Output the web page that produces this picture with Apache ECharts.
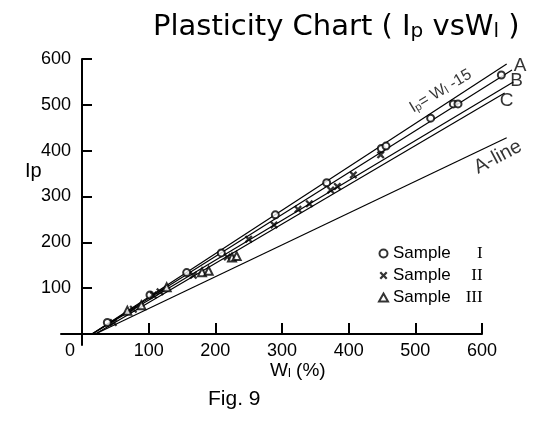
<!DOCTYPE html>
<html><head><meta charset="utf-8">
<script src="https://cdn.jsdelivr.net/npm/echarts@6/dist/echarts.min.js"></script>
<style>html,body{margin:0;padding:0;background:#fff}#c{width:547px;height:423px}</style>
</head><body><div id="c"></div>
<script>
// ---- data ----
const xTickValues = [100, 200, 300, 400, 500, 600];
const xLabelValues = [0, 100, 200, 300, 400, 500, 600];
const yTickValues = [100, 200, 300, 400, 500, 600];

const sample1 = [[38,25],[102,85],[157,134],[209,177],[290,260],[367,330],[449,405],[456,410],[523,471],[557,502],[564,502],[629,565]];
const sample2 = [[47,25],[77,54],[107,85],[117,92],[167,128],[218,168],[250,207],[288,238],[324,272],[341,284],[373,314],[383,322],[407,347],[448,391]];
const sample3 = [[68,51],[89,63],[127,102],[180,135],[190,138],[225,167],[232,170]];

const lineTop = [[15,0],[637,589]];   // Ip = Wl - 15
const lineA = [[15,0],[645,576]];
const lineB = [[15,0],[647,550]];
const lineC = [[20,0],[634,526]];
const aLine = [[20,0],[637,428]];

const endLabels = [['A',[657,586]],['B',[652,552]],['C',[637,508]]];
const aLineLabel = [624,386];
const eqLabel = [538,530];

const FONT = 'Liberation Sans';
const TFONT = 'DejaVu Sans';
const chart = echarts.init(document.getElementById('c'));

function lineSeries(data){
  return {type:'line', xAxisIndex:1, yAxisIndex:1, data:data, symbol:'none', silent:true,
    lineStyle:{color:'#000', width:1.2}, z:2};
}

chart.setOption({
  animation:false,
  backgroundColor:'#fff',
  textStyle:{fontFamily:FONT, color:'#000'},
  title:[
    {text:'Plasticity Chart ( I{s|p} vsW{s|l} )', left:148, top:8,
     textStyle:{fontFamily:TFONT, fontSize:29, fontWeight:'normal', color:'#000',
       rich:{s:{fontFamily:TFONT, fontSize:20, verticalAlign:'bottom', lineHeight:16, color:'#000'}}}},
    {text:'I{s|p}', left:20, top:156,
     textStyle:{fontFamily:FONT, fontSize:20, fontWeight:'normal', color:'#000',
       rich:{s:{fontFamily:FONT, fontSize:20, verticalAlign:'bottom', lineHeight:14, color:'#000'}}}},
    {text:'W{s|l} (%)', left:265, top:356,
     textStyle:{fontFamily:FONT, fontSize:19, fontWeight:'normal', color:'#000',
       rich:{s:{fontFamily:FONT, fontSize:13, verticalAlign:'bottom', lineHeight:10, color:'#000'}}}},
    {text:'Fig. 9', left:203, top:384,
     textStyle:{fontFamily:FONT, fontSize:21, fontWeight:'normal', color:'#000'}}
  ],
  legend:{
    orient:'vertical', left:373, top:240, itemWidth:9, itemHeight:8, itemGap:5,
    data:['Sample I','Sample II','Sample III'],
    formatter:function(n){const p=n.split(' ');return '{t|'+p[0]+'}{r|'+p[1]+'}';},
    textStyle:{fontFamily:FONT, fontSize:17, color:'#000',
      rich:{t:{fontFamily:FONT, fontSize:17, color:'#000'},
            r:{fontFamily:'Liberation Serif', fontSize:17, width:32, align:'right', color:'#000'}}}
  },
  grid:[
    {left:61, right:65, top:59, bottom:78, containLabel:false, outerBoundsMode:'none'},
    {left:61, right:10, top:59, bottom:78, containLabel:false, outerBoundsMode:'none'}
  ],
  xAxis:[
    {type:'value', gridIndex:0, min:-31.5, max:600,
    axisLine:{onZero:true, lineStyle:{color:'#000', width:2}},
    axisTick:{inside:true, length:11, customValues:xTickValues, lineStyle:{color:'#000', width:2}},
    axisLabel:{customValues:xLabelValues, color:'#000', fontFamily:FONT, fontSize:18, margin:-3,
      formatter:function(v){return v===0?'{z|0}':String(v);},
      rich:{z:{fontFamily:FONT, fontSize:18, color:'#000', padding:[0,24,0,0]}}},
    splitLine:{show:false}},
    {type:'value', gridIndex:1, min:-31.5, max:682.5, show:false, splitLine:{show:false}}
  ],
  yAxis:[
    {type:'value', gridIndex:0, min:-24, max:600,
    axisLine:{onZero:true, lineStyle:{color:'#000', width:2}},
    axisTick:{inside:true, length:10, customValues:yTickValues, lineStyle:{color:'#000', width:2}},
    axisLabel:{customValues:yTickValues, color:'#000', fontFamily:FONT, fontSize:18, margin:-10},
    splitLine:{show:false}},
    {type:'value', gridIndex:1, min:-24, max:600, show:false, splitLine:{show:false}}
  ],
  series:[
    lineSeries(lineTop), lineSeries(lineA), lineSeries(lineB), lineSeries(lineC), lineSeries(aLine),
    {name:'Sample I', type:'scatter', xAxisIndex:1, yAxisIndex:1, data:sample1, symbol:'circle', symbolSize:7,
     itemStyle:{color:'#fff', borderColor:'#000', borderWidth:2}, z:5},
    {name:'Sample II', type:'scatter', xAxisIndex:1, yAxisIndex:1, data:sample2,
     symbol:'path://M2,0L5,3L8,0L10,2L7,5L10,8L8,10L5,7L2,10L0,8L3,5L0,2Z', symbolSize:8,
     itemStyle:{color:'#000'}, z:5},
    {name:'Sample III', type:'scatter', xAxisIndex:1, yAxisIndex:1, data:sample3, symbol:'triangle', symbolSize:8,
     itemStyle:{color:'#fff', borderColor:'#000', borderWidth:2}, z:5},
    {type:'scatter', xAxisIndex:1, yAxisIndex:1, silent:true, symbolSize:0, clip:false,
     data:endLabels.map(function(e){return {value:e[1], name:e[0]};}),
     label:{show:true, position:'inside', formatter:'{b}', color:'#000', fontFamily:FONT, fontSize:19}},
    {type:'scatter', xAxisIndex:1, yAxisIndex:1, silent:true, symbolSize:0, clip:false,
     data:[{value:aLineLabel, name:'A-line'}],
     label:{show:true, position:'inside', formatter:'{b}', rotate:28, color:'#000', fontFamily:FONT, fontSize:20}},
    {type:'scatter', xAxisIndex:1, yAxisIndex:1, silent:true, symbolSize:0, clip:false,
     data:[{value:eqLabel}],
     label:{show:true, position:'inside', rotate:31, color:'#000',
       formatter:'I{s|p}= W{s|l} -15', fontFamily:FONT, fontSize:16,
       rich:{s:{fontFamily:FONT, fontSize:11, verticalAlign:'bottom', lineHeight:9, color:'#000'}}}}
  ]
});
</script></body></html>
